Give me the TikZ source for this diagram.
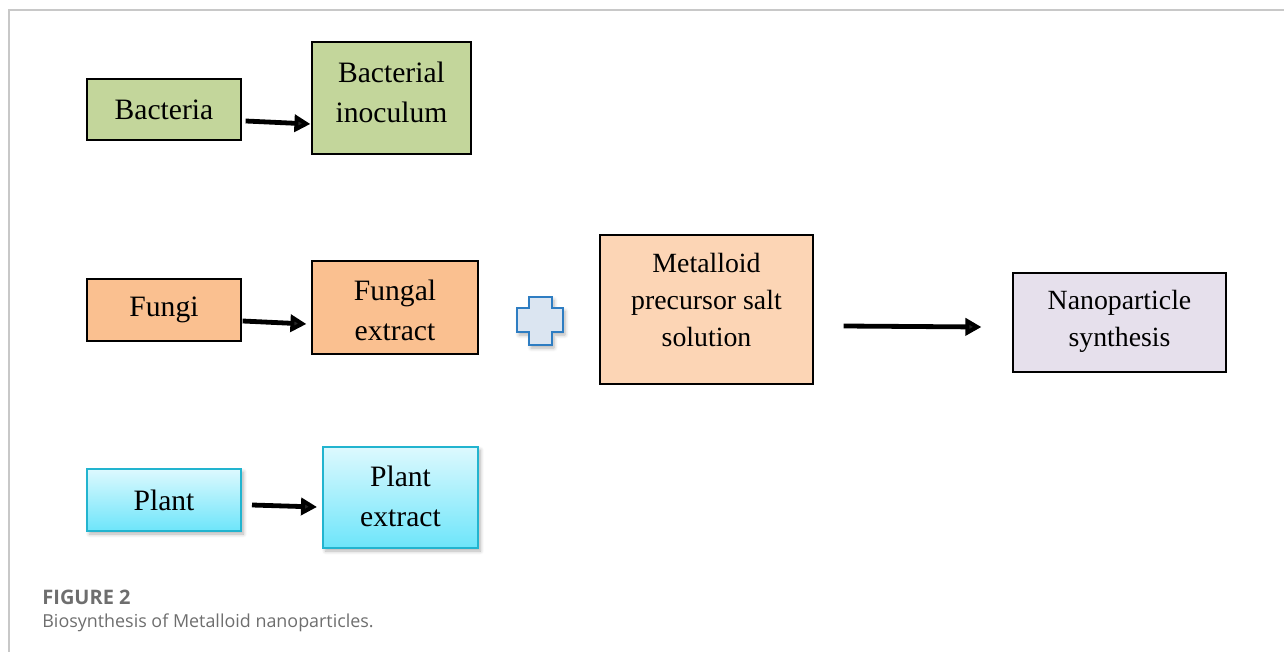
\documentclass[tikz,border=0pt]{standalone}
\usepackage{fontspec}
\setmainfont{Liberation Serif}
\newfontfamily\capfont{Open Sans}
\usetikzlibrary{arrows.meta,shadows.blur}
\definecolor{gfill}{HTML}{C3D69B}
\definecolor{ofill}{HTML}{FAC090}
\definecolor{pfill}{HTML}{FCD5B5}
\definecolor{lfill}{HTML}{E6E0EC}
\definecolor{ctop}{HTML}{DDF9FE}
\definecolor{cbot}{HTML}{6DE5FA}
\definecolor{cline}{HTML}{22B4CF}
\definecolor{plusfill}{HTML}{DBE5F1}
\definecolor{plusline}{HTML}{2E7DC2}
\definecolor{capgray}{HTML}{6E6E6E}
\definecolor{framegray}{HTML}{C8C8C8}
\tikzset{
  box/.style={draw=black, line width=0.6pt, rectangle, inner sep=0pt},
  cbox/.style={draw=cline, line width=1pt, rectangle, inner sep=0pt,
    top color=ctop, bottom color=cbot,
    blur shadow={shadow xshift=1.2pt, shadow yshift=-1.5pt, shadow blur steps=6, shadow opacity=30}},
  big/.style={font=\fontsize{14.8}{20}\selectfont, align=center},
  mid/.style={font=\fontsize{13.9}{18.5}\selectfont, align=center},
  arr/.style={line width=2.4pt, -{Triangle[length=8pt,width=8.5pt]}},
}
\begin{document}
\begin{tikzpicture}[x=0.5pt,y=-0.5pt]
\useasboundingbox (0,0) rectangle (1284,652);
% frame
\draw[framegray, line width=0.6pt] (9,652) -- (9,10) -- (1284,10);
% boxes
\node[box, fill=gfill, minimum width=77pt, minimum height=30.5pt, label={[big]center:Bacteria}] (bac) at (164,109.5) {};
\node[box, fill=gfill, minimum width=79.5pt, minimum height=56pt, label={[big,yshift=3pt]center:Bacterial\\inoculum}] (inoc) at (391.5,98) {};
\node[box, fill=ofill, minimum width=77pt, minimum height=31pt, label={[big]center:Fungi}] (fungi) at (164,310) {};
\node[box, fill=ofill, minimum width=83pt, minimum height=46.5pt, label={[big,yshift=-1.5pt]center:Fungal\\extract}] (fext) at (395,307.5) {};
\node[box, fill=pfill, minimum width=106.5pt, minimum height=74.5pt, label={[mid,yshift=5pt]center:Metalloid\\precursor salt\\solution}] (metal) at (706.5,309.5) {};
\node[box, fill=lfill, minimum width=106.5pt, minimum height=49.5pt, label={[mid,yshift=0.5pt]center:Nanoparticle\\synthesis}] (nano) at (1119.5,322.5) {};
\node[cbox, minimum width=77pt, minimum height=31pt, label={[big]center:Plant}] (plant) at (164,500) {};
\node[cbox, minimum width=77.5pt, minimum height=50.5pt, label={[big,yshift=0.5pt]center:Plant\\extract}] (pext) at (400.5,497.5) {};
% plus sign
\coordinate (plus) at (541,321);
\draw[plusline, fill=plusfill, line width=1.4pt, line join=miter,
  blur shadow={shadow xshift=1pt, shadow yshift=-1.5pt, shadow blur steps=5, shadow opacity=30}]
  ([shift={(-12,-24)}]plus) -- ([shift={(11,-24)}]plus) -- ([shift={(11,-13)}]plus) -- ([shift={(22,-13)}]plus)
  -- ([shift={(22,11)}]plus) -- ([shift={(11,11)}]plus) -- ([shift={(11,24)}]plus) -- ([shift={(-12,24)}]plus)
  -- ([shift={(-12,11)}]plus) -- ([shift={(-24,11)}]plus) -- ([shift={(-24,-13)}]plus) -- ([shift={(-12,-13)}]plus) -- cycle;
% arrows
\draw[arr] ([shift={(4,11.5)}]bac.east) -- ([shift={(-1,26)}]inoc.west);
\draw[arr] ([shift={(1,11)}]fungi.east) -- ([shift={(-5,16.5)}]fext.west);
\draw[arr] ([shift={(10,5)}]plant.east) -- ([shift={(-5,9.5)}]pext.west);
\draw[arr] ([shift={(30,16.5)}]metal.east) -- ([shift={(-31,4.5)}]nano.west);
% caption
\node[anchor=base west, inner sep=0pt, font=\capfont\bfseries\fontsize{10}{12}\selectfont, text=capgray] (figlab) at (42,604) {FIGURE 2};
\node[anchor=base west, inner sep=0pt, font=\capfont\fontsize{8.95}{11}\selectfont, text=capgray] (figcap) at (42,627) {Biosynthesis of Metalloid nanoparticles.};
\end{tikzpicture}
\end{document}
